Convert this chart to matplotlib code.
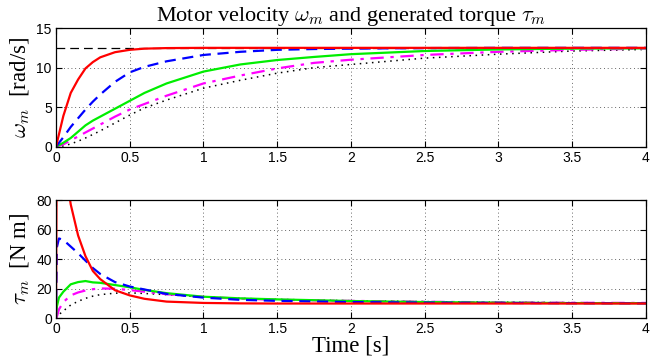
import matplotlib
matplotlib.use("Agg")
import matplotlib.pyplot as plt

plt.rcParams['mathtext.fontset'] = 'cm'
plt.rcParams['font.family'] = ['Liberation Sans', 'DejaVu Sans']

# ---- data: motor velocity (top) ----
t_top = [0, 0.05, 0.1, 0.15, 0.2, 0.25, 0.3, 0.4, 0.5, 0.6, 0.75, 1.0,
         1.25, 1.5, 1.75, 2.0, 2.5, 3.0, 3.5, 4.0]
w_red = [0, 3.9, 6.8, 8.5, 9.9, 10.7, 11.3, 11.95, 12.25, 12.4, 12.47, 12.5,
         12.5, 12.5, 12.5, 12.5, 12.5, 12.5, 12.5, 12.5]
w_blue = [0, 1.2, 2.5, 3.6, 4.7, 5.7, 6.6, 8.2, 9.4, 10.1, 10.8, 11.6,
          12.0, 12.25, 12.35, 12.4, 12.47, 12.5, 12.5, 12.5]
w_green = [0, 0.5, 1.1, 1.9, 2.7, 3.3, 3.8, 4.8, 5.8, 6.8, 8.0, 9.5,
           10.4, 10.96, 11.35, 11.7, 12.1, 12.3, 12.4, 12.45]
w_mag = [0, 0.3, 0.8, 1.3, 1.8, 2.3, 2.8, 3.8, 4.7, 5.4, 6.45, 8.0,
         9.0, 9.9, 10.6, 11.0, 11.6, 12.0, 12.25, 12.4]
w_blk = [0, 0.1, 0.35, 0.7, 1.1, 1.55, 2.0, 3.0, 4.0, 4.9, 5.9, 7.4,
         8.4, 9.3, 10.0, 10.4, 11.2, 11.7, 12.1, 12.3]
w_ref = 12.5

# ---- data: generated torque (bottom) ----
t_bot = [0, 0.006, 0.02, 0.05, 0.1, 0.15, 0.2, 0.25, 0.3, 0.4, 0.5, 0.6,
         0.75, 1.0, 1.25, 1.5, 2.0, 2.5, 3.0, 3.5, 4.0]
tau_red = [0, 150, 130, 110, 77, 56, 42, 32, 26.5, 19, 15.5, 13.2,
           11.3, 10.4, 10.1, 10.0, 10.0, 10.0, 10.0, 10.0, 10.0]
tau_blue = [0, 48, 54, 53, 48.5, 44, 39, 34, 30, 24.5, 21.5, 19.5,
            16.5, 14, 12.5, 11.8, 11.0, 10.6, 10.4, 10.2, 10.1]
tau_green = [0, 8, 14, 18, 23, 24.5, 25.2, 24.3, 24, 22.5, 21, 19.2,
             17, 14.6, 13.5, 12.8, 11.7, 11.0, 10.6, 10.3, 10.2]
tau_mag = [0, 1, 6, 11, 15.5, 17.5, 18.8, 19.7, 20.2, 20, 19.1, 18,
           16.3, 14.5, 13.3, 12.5, 11.8, 11.2, 10.8, 10.5, 10.4]
tau_blk = [0, 0.5, 2.5, 5, 9, 11.5, 13.5, 15, 16, 17, 17.2, 16.8,
           16, 14.5, 13.5, 12.8, 11.9, 11.3, 10.9, 10.6, 10.4]

xticks = [0, 0.5, 1, 1.5, 2, 2.5, 3, 3.5, 4]
xticklabels = ['0', '0.5', '1', '1.5', '2', '2.5', '3', '3.5', '4']
yticks_top = [0, 5, 10, 15]
yticks_bot = [0, 20, 40, 60, 80]

serif = ['Liberation Serif', 'DejaVu Serif']

fig = plt.figure(figsize=(6.61, 3.6), dpi=100)
ax1 = fig.add_axes([0.0847, 0.5925, 0.8925, 0.3295])
ax2 = fig.add_axes([0.0847, 0.1158, 0.8925, 0.3286])

lw = 1.6
for ax in (ax1, ax2):
    ax.set_xlim(0, 4)
    ax.set_xticks(xticks)
    ax.set_xticklabels(xticklabels)
    ax.grid(True, color='black', linestyle=(0, (1, 3.5)), linewidth=0.6, alpha=0.8)
    ax.tick_params(direction='in', top=True, right=True, length=4,
                   labelsize=10, width=0.8, pad=3)
    for s in ax.spines.values():
        s.set_linewidth(0.9)

ax1.axhline(w_ref, color='black', linestyle=(0, (7, 4)), linewidth=0.9)
ax1.plot(t_top, w_blk, color='black', linestyle=(0, (1, 3)), linewidth=1.1)
ax1.plot(t_top, w_mag, color='#ff00ff', linestyle=(0, (6, 3, 1.5, 3)), linewidth=lw)
ax1.plot(t_top, w_green, color='#00ee00', linestyle='-', linewidth=lw)
ax1.plot(t_top, w_blue, color='#0000ff', linestyle=(0, (5, 3)), linewidth=lw)
ax1.plot(t_top, w_red, color='#ff0000', linestyle='-', linewidth=lw)
ax1.set_ylim(0, 15)
ax1.set_yticks(yticks_top)
ax1.set_ylabel(r'$\omega_m$  [rad/s]', family=serif, fontsize=16.5, labelpad=3)
ax1.set_title(r'Motor velocity $\omega_m$ and generated torque $\tau_m$',
              family=serif, fontsize=16, pad=5)

ax2.plot(t_bot, tau_blk, color='black', linestyle=(0, (1, 3)), linewidth=1.1)
ax2.plot(t_bot, tau_mag, color='#ff00ff', linestyle=(0, (6, 3, 1.5, 3)), linewidth=lw)
ax2.plot(t_bot, tau_green, color='#00ee00', linestyle='-', linewidth=lw)
ax2.plot(t_bot, tau_blue, color='#0000ff', linestyle=(0, (5, 3)), linewidth=lw)
ax2.plot(t_bot, tau_red, color='#ff0000', linestyle='-', linewidth=lw)
ax2.set_ylim(0, 80)
ax2.set_yticks(yticks_bot)
ax2.set_ylabel(r'$\tau_m$  [N m]', family=serif, fontsize=16.5, labelpad=3)
ax2.set_xlabel('Time [s]', family=serif, fontsize=16.5, labelpad=-1)

fig.savefig('out.png', dpi=100)
